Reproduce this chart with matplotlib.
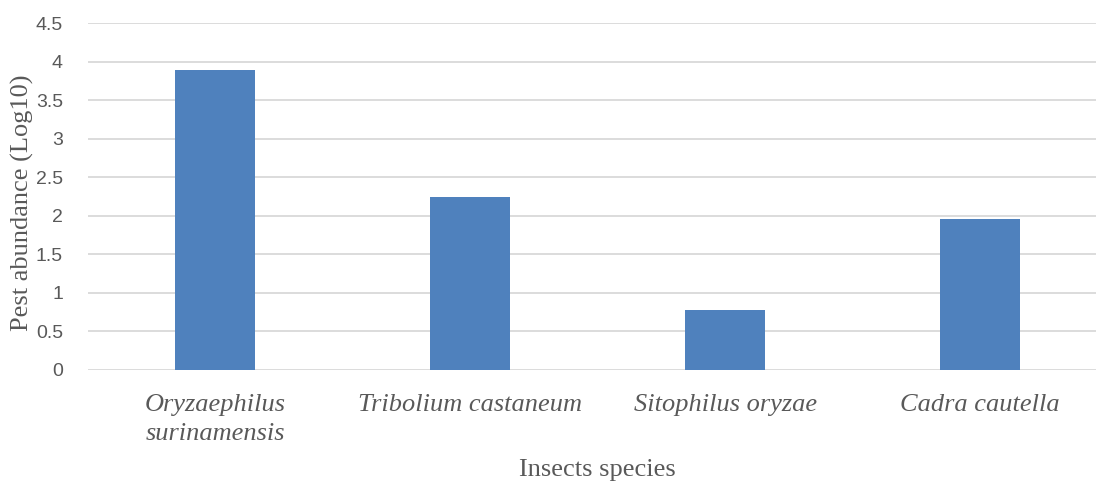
import matplotlib.pyplot as plt
import numpy as np

species = ["Oryzaephilus\nsurinamensis", "Tribolium castaneum", "Sitophilus oryzae", "Cadra cautella"]
abundance = [3.89, 2.25, 0.78, 1.96]
yticks = [0, 0.5, 1, 1.5, 2, 2.5, 3, 3.5, 4, 4.5]
ytick_labels = ["0", "0.5", "1", "1.5", "2", "2.5", "3", "3.5", "4", "4.5"]

W, H = 1096, 483
fig = plt.figure(figsize=(W / 100, H / 100), dpi=100)
# plot area runs a little past the right edge, as in the original
left, right, top, bottom = 88, 1107.5, 23, 370
ax = fig.add_axes([left / W, 1 - bottom / H, (right - left) / W, (bottom - top) / H])

x = np.arange(len(species))
ax.bar(x, abundance, width=0.314, color="#4f81bd", zorder=3)

ax.set_xlim(-0.5, len(species) - 0.5)
ax.set_ylim(0, 4.5)
ax.set_yticks(yticks)
ax.set_yticklabels(ytick_labels, fontsize=14, color="#595959", family="Liberation Sans")
ax.set_xticks(x)
ax.set_xticklabels(species, fontsize=19, color="#595959", family="Liberation Serif",
                   style="italic", linespacing=1.42)
ax.tick_params(axis="y", length=0, pad=18)
ax.tick_params(axis="x", length=0, pad=17)

ax.grid(axis="y", color="#d9d9d9", linewidth=1.3, zorder=0)
for s in ax.spines.values():
    s.set_visible(False)

fig.text(22 / W, 1 - 203 / H, "Pest abundance (Log10)", fontsize=19, color="#595959",
         family="Liberation Serif", rotation=90, ha="center", va="center")
fig.text(597 / W, 1 - 470 / H, "Insects species", fontsize=19, color="#595959",
         family="Liberation Serif", ha="center", va="center")

fig.savefig("out.png", dpi=100)
